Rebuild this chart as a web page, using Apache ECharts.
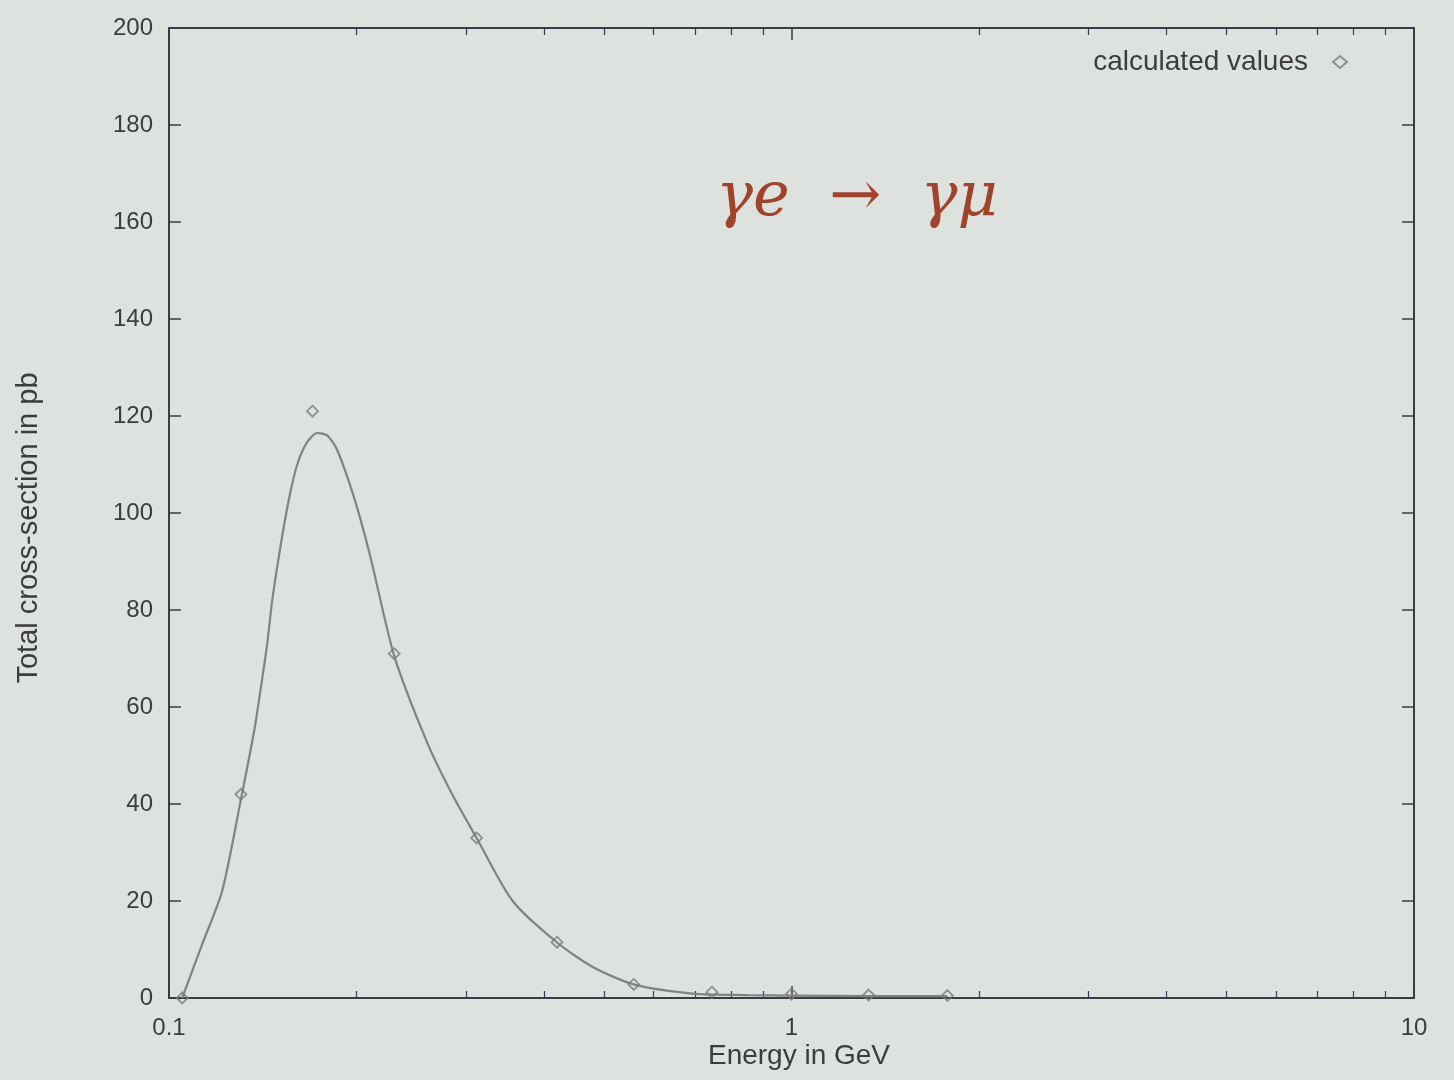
<!DOCTYPE html>
<html>
<head>
<meta charset="utf-8">
<script src="https://cdn.jsdelivr.net/npm/echarts@6/dist/echarts.min.js"></script>
<style>
html,body{margin:0;padding:0;background:#dde2df;}
#c{width:1454px;height:1080px;}
</style>
</head>
<body>
<div id="c"></div>
<script>
// Calculated values (diamonds)
const pointEnergy = [0.105, 0.1305, 0.17, 0.23, 0.312, 0.42, 0.558, 0.745, 1.0, 1.33, 1.78];
const pointSigma  = [0, 42, 121, 71, 33, 11.5, 2.8, 1.2, 0.8, 0.6, 0.5];
// Smooth curve through the values
const curveEnergy = [0.105, 0.113, 0.1217, 0.1305, 0.137, 0.1401, 0.1438, 0.1465, 0.1519, 0.1565, 0.1607, 0.1665, 0.173, 0.1795, 0.1863, 0.1985, 0.2106, 0.2301, 0.2602, 0.285, 0.312, 0.3565, 0.4196, 0.4795, 0.558, 0.694, 0.85, 1.0, 1.33, 1.78];
const curveSigma  = [0, 11, 22, 41, 55, 63, 73, 82, 95, 104, 110, 114.5, 116.5, 116, 113, 103, 91, 70.5, 52.5, 42, 33, 20, 11.5, 6.4, 2.8, 0.9, 0.6, 0.5, 0.4, 0.4];
const yTicks = [0, 20, 40, 60, 80, 100, 120, 140, 160, 180, 200];

const legendName = 'calculated values';
const xTitle = 'Energy in GeV';
const yTitle = 'Total cross-section in pb';
const note = 'γe  →  γμ';

const axisColor = '#3a3a4a';
const textColor = '#3c3c3c';
const font = 'Liberation Sans';

const chart = echarts.init(document.getElementById('c'));
const pts = pointEnergy.map((x, i) => [x, pointSigma[i]]);
const curve = curveEnergy.map((x, i) => [x, curveSigma[i]]);

function xAx(pos, showLabels) {
  return {
    type: 'log', logBase: 10, min: 0.1, max: 10, position: pos,
    axisLine: {show: true, onZero: false, lineStyle: {color: axisColor, width: 2}},
    axisTick: {show: true, inside: true, length: 12, lineStyle: {color: axisColor, width: 1.5}},
    minorTick: {show: true, splitNumber: 9, length: 7, lineStyle: {color: axisColor, width: 1.2}},
    splitLine: {show: false}, minorSplitLine: {show: false},
    axisLabel: {show: showLabels, color: textColor, fontFamily: font, fontSize: 24, margin: 18,
      formatter: v => String(v)}
  };
}
function yAx(pos, showLabels) {
  return {
    type: 'value', min: yTicks[0], max: yTicks[yTicks.length - 1], interval: 20, position: pos,
    axisLine: {show: true, onZero: false, lineStyle: {color: axisColor, width: 2}},
    axisTick: {show: true, inside: true, length: 12, lineStyle: {color: axisColor, width: 1.5}},
    splitLine: {show: false},
    axisLabel: {show: showLabels, color: textColor, fontFamily: font, fontSize: 24, margin: 16}
  };
}

chart.setOption({
  backgroundColor: '#dde2df',
  animation: false,
  grid: {left: 169, right: 40, top: 28, bottom: 82, containLabel: false},
  xAxis: [xAx('bottom', true), xAx('top', false)],
  yAxis: [yAx('left', true), yAx('right', false)],
  legend: {
    data: [legendName], right: 101, top: 43, align: 'right', itemGap: 10,
    itemWidth: 14, itemHeight: 12,
    textStyle: {color: textColor, fontFamily: font, fontSize: 28, padding: [0, 20, 0, 0]}
  },
  graphic: [
    {
      type: 'text', left: 716, top: 168,
      style: {text: note, fill: '#a0432a', font: 'italic 62px "DejaVu Serif"'}
    },
    {
      type: 'text', x: 799, y: 1056,
      style: {text: xTitle, fill: textColor, font: '28px "Liberation Sans"', align: 'center', verticalAlign: 'middle'}
    },
    {
      type: 'text', x: 29, y: 528, rotation: Math.PI / 2,
      style: {text: yTitle, fill: textColor, font: '29px "Liberation Sans"', align: 'center', verticalAlign: 'middle'}
    }
  ],
  series: [
    {
      name: 'curve', type: 'line', data: curve, smooth: 0.25, symbol: 'none',
      lineStyle: {color: '#828282', width: 2.2}, z: 2
    },
    {
      name: legendName, type: 'scatter', data: pts, symbol: 'diamond', symbolSize: 11,
      itemStyle: {color: 'rgba(0,0,0,0)', borderColor: '#7a7a7a', borderWidth: 1.8}, z: 3
    }
  ]
});
</script>
</body>
</html>
